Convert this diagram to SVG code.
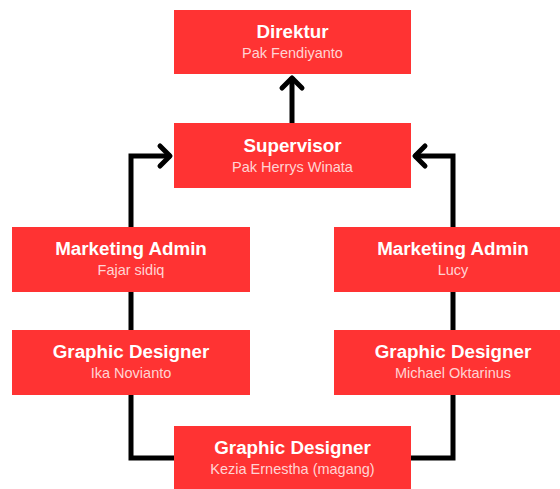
<svg xmlns="http://www.w3.org/2000/svg" width="560" height="489" viewBox="0 0 560 489">
<defs>
<style>
.box{fill:#ff3333;}
.t{font-family:"Liberation Sans",Arial,sans-serif;font-weight:bold;font-size:18.8px;fill:#ffffff;text-anchor:middle;}
.s{font-family:"Liberation Sans",Arial,sans-serif;font-size:14.5px;fill:#ffd3d3;text-anchor:middle;}
.c{fill:none;stroke:#000000;stroke-width:5;stroke-linejoin:miter;}
</style>
<marker id="arr" markerUnits="userSpaceOnUse" markerWidth="30" markerHeight="30" viewBox="-20 -15 30 30" refX="0" refY="0" orient="auto" overflow="visible">
<path d="M -11,-10 L -1,0 L -11,10" fill="none" stroke="#000" stroke-width="5" stroke-linecap="round" stroke-linejoin="round"/>
</marker>
</defs>
<rect width="560" height="489" fill="#ffffff"/>
<g id="connectors">
<path class="c" d="M 292 123 V 77" marker-end="url(#arr)"/>
<path class="c" d="M 174 458 H 131 V 156 H 171" marker-end="url(#arr)"/>
<path class="c" d="M 411 458 H 453 V 156 H 414" marker-end="url(#arr)"/>
</g>
<g id="direktur">
<rect class="box" x="174" y="10" width="237" height="64"/>
<text class="t" x="292.5" y="37.5">Direktur</text>
<text class="s" x="292.5" y="57.5">Pak Fendiyanto</text>
</g>
<g id="supervisor">
<rect class="box" x="174" y="123" width="237" height="65"/>
<text class="t" x="292.5" y="151.5">Supervisor</text>
<text class="s" x="292.5" y="171.5">Pak Herrys Winata</text>
</g>
<g id="marketing-left">
<rect class="box" x="12" y="227" width="238" height="65"/>
<text class="t" x="131" y="255">Marketing Admin</text>
<text class="s" x="131" y="275">Fajar sidiq</text>
</g>
<g id="marketing-right">
<rect class="box" x="334" y="227" width="238" height="65"/>
<text class="t" x="453" y="255">Marketing Admin</text>
<text class="s" x="453" y="275">Lucy</text>
</g>
<g id="designer-left">
<rect class="box" x="12" y="330" width="238" height="65"/>
<text class="t" x="131" y="358">Graphic Designer</text>
<text class="s" x="131" y="378">Ika Novianto</text>
</g>
<g id="designer-right">
<rect class="box" x="334" y="330" width="238" height="65"/>
<text class="t" x="453" y="358">Graphic Designer</text>
<text class="s" x="453" y="378">Michael Oktarinus</text>
</g>
<g id="designer-bottom">
<rect class="box" x="174" y="426" width="237" height="65"/>
<text class="t" x="292.5" y="454">Graphic Designer</text>
<text class="s" x="292.5" y="474">Kezia Ernestha (magang)</text>
</g>
</svg>
